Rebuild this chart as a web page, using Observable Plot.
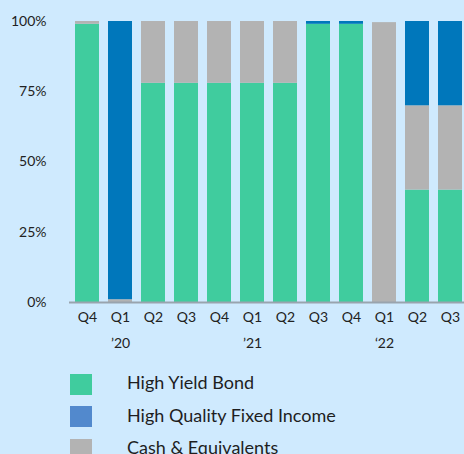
<!DOCTYPE html>
<html>
<head>
<meta charset="utf-8">
<script src="https://cdn.jsdelivr.net/npm/d3@7"></script>
<script src="https://cdn.jsdelivr.net/npm/@observablehq/plot@0.6"></script>
<style>
  html, body { margin: 0; padding: 0; background: #cfeafe; overflow: hidden; }
  body { font-family: Lato, "Noto Sans", sans-serif; color: #222; width: 464px; }
  .legend { margin-top: 13px; }
  .row { display: flex; align-items: center; height: 22px; margin-bottom: 10.5px; }
  .sw { width: 22px; height: 21px; margin-left: 70px; margin-right: 35px; flex: none; }
  .lab { font-size: 18px; color: #1e1e1e; white-space: nowrap; position: relative; top: -2px; }
</style>
</head>
<body>
<div id="chart"></div>
<div class="legend" id="legend"></div>
<script>
const quarters = ["Q4 ’19","Q1 ’20","Q2 ’20","Q3 ’20","Q4 ’20","Q1 ’21","Q2 ’21","Q3 ’21","Q4 ’21","Q1 ’22","Q2 ’22","Q3 ’22"];
const quarterLabels = ["Q4","Q1","Q2","Q3","Q4","Q1","Q2","Q3","Q4","Q1","Q2","Q3"];
const yearTicks = ["Q1 ’20","Q1 ’21","Q1 ’22"];
const yearLabels = ["’20","’21","‘22"];
const seriesNames = ["High Yield Bond","Cash & Equivalents","High Quality Fixed Income"];
const highYield = [99,0,78,78,78,78,78,99,99,0,40,40];
const cash      = [1,1,22,22,22,22,22,0,0,99.6,30,30];
const highQuality = [0,99,0,0,0,0,0,1,1,0,30,30];
const barColors = ["#40cc9e","#b3b3b3","#0077bb"];
const legendNames = ["High Yield Bond","High Quality Fixed Income","Cash & Equivalents"];
const legendColors = ["#40cc9e","#5289cd","#b3b3b3"];
const yTicks = [0,25,50,75,100];

const seriesValues = [highYield, cash, highQuality];
const data = [];
seriesNames.forEach((s, i) => quarters.forEach((q, j) => data.push({quarter: q, series: s, value: seriesValues[i][j]})));
const years = yearTicks.map((q, i) => ({quarter: q, label: yearLabels[i]}));
const qLabel = new Map(quarters.map((q, i) => [q, quarterLabels[i]]));

const chart = Plot.plot({
  width: 464,
  height: 360,
  marginTop: 21,
  marginBottom: 58,
  marginLeft: 69,
  marginRight: 0,
  style: {background: "transparent", fontFamily: "Lato, sans-serif", fontSize: "14px", color: "#222"},
  x: {domain: quarters, range: [74, 463], paddingInner: 0.277, paddingOuter: 0, axis: null},
  y: {domain: [0, 100], axis: null},
  color: {domain: seriesNames, range: barColors},
  marks: [
    Plot.barY(data, {x: "quarter", y: "value", fill: "series"}),
    Plot.ruleY([0], {stroke: "#99a4ae", strokeWidth: 2}),
    Plot.axisY({ticks: yTicks, tickFormat: d => d + "%", tickSize: 0, tickPadding: 23, fontSize: 14, fill: "#222", label: null}),
    Plot.axisX({tickFormat: d => qLabel.get(d), tickSize: 0, tickPadding: 10, fontSize: 14, fill: "#222", label: null}),
    Plot.text(years, {x: "quarter", text: "label", frameAnchor: "bottom", dy: 45, fontSize: 14, fill: "#222"})
  ]
});
document.getElementById("chart").appendChild(chart);

const legend = document.getElementById("legend");
legendNames.forEach((n, i) => {
  const row = document.createElement("div");
  row.className = "row";
  const sw = document.createElement("div");
  sw.className = "sw";
  sw.style.background = legendColors[i];
  const lab = document.createElement("span");
  lab.className = "lab";
  lab.textContent = n;
  row.appendChild(sw); row.appendChild(lab);
  legend.appendChild(row);
});
</script>
</body>
</html>
